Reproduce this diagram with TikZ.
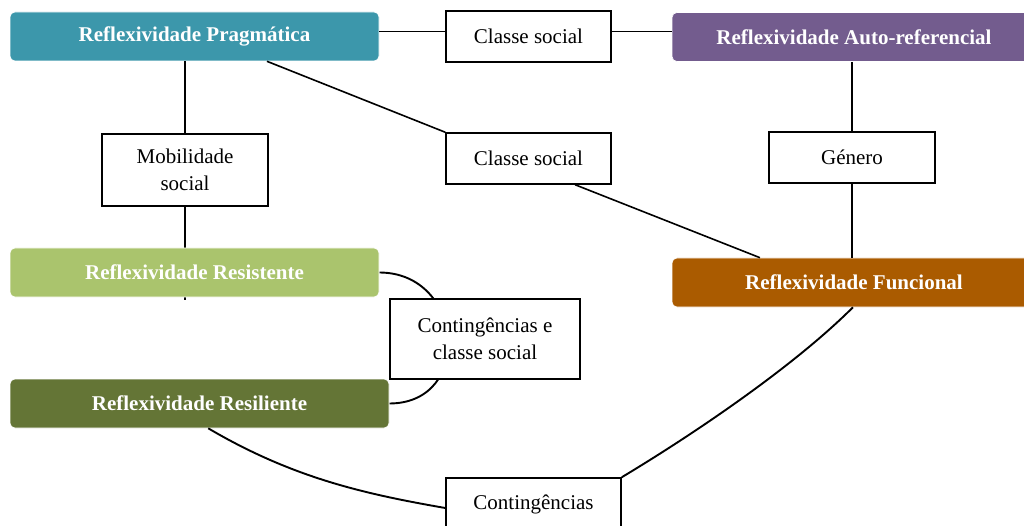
\documentclass[tikz,border=0pt]{standalone}
\usepackage{fontspec}
\setmainfont{Liberation Serif}
\usetikzlibrary{calc,backgrounds}
\definecolor{cPrag}{HTML}{3C97AB}
\definecolor{cAuto}{HTML}{735C8E}
\definecolor{cResist}{HTML}{AAC46D}
\definecolor{cResil}{HTML}{647536}
\definecolor{cFunc}{HTML}{AA5B00}
\begin{document}
\begin{tikzpicture}[x=1pt,y=-1pt,
  rfx/.style={rounded corners=5pt, draw=white, line width=0.6pt, text=white,
    font=\fontsize{21}{25}\selectfont\bfseries, minimum height=49pt, inner sep=0pt},
  lbl/.style={draw=black, fill=white, line width=1.5pt,
    font=\fontsize{21}{27}\selectfont, align=center, inner sep=0pt},
  link/.style={line width=1.6pt},
  curvelink/.style={line width=1.9pt}]
\useasboundingbox (0,0) rectangle (1024,526);

% coloured reflexivity boxes
\node[rfx, fill=cPrag,   minimum width=369pt] (prag)   at (194.5,36.5)  {Reflexividade Pragmática};
\node[rfx, fill=cAuto,   minimum width=364pt] (auto)   at (854,37)      {Reflexividade Auto-referencial};
\node[rfx, fill=cResist, minimum width=369pt] (resist) at (194.5,272.5) {Reflexividade Resistente};
\node[rfx, fill=cResil,  minimum width=379pt] (resil)  at (199.5,403.5) {Reflexividade Resiliente};
\node[rfx, fill=cFunc,   minimum width=364pt] (func)   at (854,282.5)   {Reflexividade Funcional};

% linking factors
\node[lbl, minimum width=165pt, minimum height=51pt] (cs1)  at (528.5,36.5)  {Classe social};
\node[lbl, minimum width=166pt, minimum height=72pt] (mob)  at (185,170)     {Mobilidade\\social};
\node[lbl, minimum width=165pt, minimum height=51pt] (cs2)  at (528.5,158.5) {Classe social};
\node[lbl, minimum width=166pt, minimum height=51pt] (gen)  at (852,157.5)   {Género};
\node[lbl, minimum width=190pt, minimum height=80pt] (ccs)  at (485,339)     {Contingências e\\classe social};
\node[lbl, minimum width=175pt, minimum height=52pt] (cont) at (533.5,504)   {Contingências};

\begin{scope}[on background layer]
  % vertical line on the left passes behind the Resistente box
  \draw[link] (mob.south) -- ($(mob.south |- resist.south)+(0,3)$);
  % bracket joining Resistente and Resiliente, passing behind the label
  \draw[curvelink] (resist.east) .. controls ($(resist.east)+(85,0)$) and ($(resil.east)+(85,0)$) .. (resil.east);
\end{scope}

% straight connectors
\draw[link] ([yshift=5pt]prag.east) -- ([yshift=5pt]prag.east -| cs1.west);
\draw[link] ([yshift=5pt]cs1.east) -- ([yshift=5pt]cs1.east -| auto.west);
\draw[link] (mob.north) -- (mob.north |- prag.south);
\draw[link] ($(prag.south west)!0.696!(prag.south east)$) -- (cs2.north west);
\draw[link] ($(cs2.south west)!0.78!(cs2.south east)$) -- ($(func.north west)!0.242!(func.north east)$);
\draw[link] (gen.north) -- (gen.north |- auto.south);
\draw[link] (gen.south) -- (gen.south |- func.north);

% curved connectors to the bottom label
\coordinate (rsb) at ($(resil.south west)!0.523!(resil.south east)$);
\draw[curvelink] (rsb) .. controls ($(rsb)+(85,50)$) and ($(cont.west)+(-80,-10)$) .. ([yshift=-4pt]cont.west);
\coordinate (fnb) at ($(func.south west)!0.497!(func.south east)$);
\draw[curvelink] (fnb) .. controls ($(fnb)+(-60,60)$) and ($(cont.north east)+(70,-42)$) .. (cont.north east);
\end{tikzpicture}
\end{document}
